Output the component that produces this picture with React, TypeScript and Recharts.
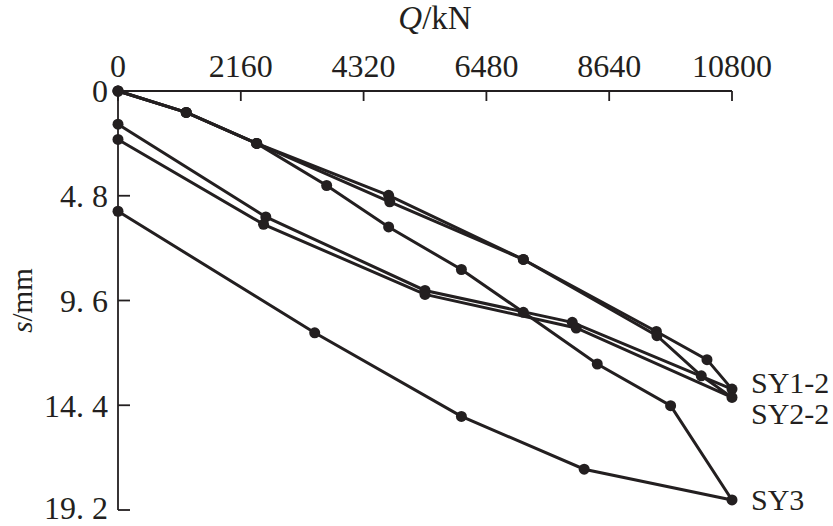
import React from 'react';
import { LineChart, Line, XAxis, YAxis } from 'recharts';

// Tick values
const qTicks = [0, 2160, 4320, 6480, 8640, 10800];
const sTicks = [0, 4.8, 9.6, 14.4, 19.2];

// Series names
const seriesNames = ['SY1-2', 'SY2-2', 'SY3'];

// SY1-2: load Q (kN) and settlement s (mm), loading then unloading
const sy12Q = [0, 1200, 2440, 4760, 7130, 9470, 10360, 10800, 7990, 5400, 2600, 0];
const sy12S = [0, 0.98, 2.4, 4.78, 7.72, 11.02, 12.31, 13.66, 10.6, 9.14, 5.77, 1.52];

// SY2-2
const sy22Q = [0, 1200, 2440, 4780, 7130, 9480, 10260, 10800, 8060, 5400, 2560, 0];
const sy22S = [0, 0.98, 2.4, 5.08, 7.72, 11.21, 13.05, 14.04, 10.86, 9.32, 6.11, 2.22];

// SY3
const sy3Q = [0, 1200, 2440, 3670, 4760, 6040, 7130, 8430, 9720, 10800, 8200, 6040, 3460, 0];
const sy3S = [0, 0.98, 2.4, 4.33, 6.23, 8.18, 10.14, 12.51, 14.42, 18.74, 17.33, 14.91, 11.08, 5.51];

const INK = '#231f20';
const FONT = '"Liberation Serif", "Times New Roman", serif';

const build = (q: number[], s: number[]) => q.map((v, i) => ({ q: v, s: s[i] }));

const series = [
  { name: seriesNames[0], data: build(sy12Q, sy12S), dy: -7 },
  { name: seriesNames[1], data: build(sy22Q, sy22S), dy: 16 },
  { name: seriesNames[2], data: build(sy3Q, sy3S), dy: 0 },
];

const fmtS = (v: number) => (v === 0 ? '0' : v.toFixed(1).replace('.', '. '));

const makeLabel = (name: string, data: { q: number; s: number }[], dy: number) => {
  const peak = data.reduce((b, d, i) => (d.q > data[b].q ? i : b), 0);
  return (props: any) => {
    if (props.index !== peak) return null;
    return (
      <text
        key={name}
        x={props.x + 19}
        y={props.y + dy}
        dominantBaseline="central"
        style={{ fontFamily: FONT, fontSize: 30 }}
        fill={INK}
      >
        {name}
      </text>
    );
  };
};

const tickStyle = { fill: INK, fontFamily: FONT, fontSize: 32, style: { fontFamily: FONT } };

export default function App() {
  return (
    <div style={{ position: 'absolute', left: 0, top: 0, width: 833, height: 526, background: '#fff' }}>
      <LineChart width={833} height={526} margin={{ top: 0, right: 101, bottom: 16, left: 0 }}>
        <XAxis
          type="number"
          dataKey="q"
          orientation="top"
          domain={[0, 10800]}
          ticks={qTicks}
          height={91}
          axisLine={{ stroke: INK, strokeWidth: 1.8 }}
          tickLine={{ stroke: INK, strokeWidth: 1.8 }}
          tickSize={-10}
          tickMargin={24}
          tick={tickStyle}
          label={{
            content: (p: any) => {
              const vb = p.viewBox || { x: 118, width: 614 };
              return (
                <text
                  x={vb.x + vb.width / 2 + 10}
                  y={29}
                  textAnchor="middle"
                  style={{ fontFamily: FONT, fontSize: 33 }}
                  fill={INK}
                >
                  <tspan fontStyle="italic">Q</tspan>
                  <tspan>/kN</tspan>
                </text>
              );
            },
          }}
        />
        <YAxis
          type="number"
          dataKey="s"
          reversed
          domain={[0, 19.2]}
          ticks={sTicks}
          width={118}
          axisLine={{ stroke: INK, strokeWidth: 1.8 }}
          tickLine={{ stroke: INK, strokeWidth: 1.8 }}
          tickSize={-12}
          tickMargin={22}
          tickFormatter={fmtS}
          tick={tickStyle}
          label={{
            content: (p: any) => {
              const vb = p.viewBox || { y: 91, height: 419 };
              const cy = vb.y + vb.height / 2;
              return (
                <text
                  x={22}
                  y={cy}
                  transform={`rotate(-90 22 ${cy})`}
                  textAnchor="middle"
                  dominantBaseline="central"
                  style={{ fontFamily: FONT, fontSize: 29 }}
                  fill={INK}
                >
                  <tspan fontStyle="italic">s</tspan>
                  <tspan>/mm</tspan>
                </text>
              );
            },
          }}
        />
        {series.map((sr) => (
          <Line
            key={sr.name}
            data={sr.data}
            dataKey="s"
            type="linear"
            stroke={INK}
            strokeWidth={3}
            dot={{ r: 5.5, fill: INK, stroke: 'none' }}
            activeDot={false}
            isAnimationActive={false}
            label={makeLabel(sr.name, sr.data, sr.dy)}
          />
        ))}
      </LineChart>
    </div>
  );
}
